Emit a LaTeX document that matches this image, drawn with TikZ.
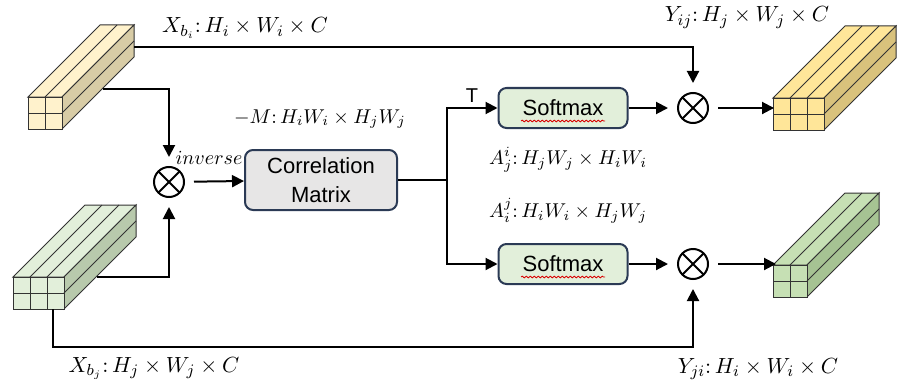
\documentclass[tikz,border=0pt]{standalone}
\usepackage{fontspec}
\setsansfont{Liberation Sans}
\usetikzlibrary{arrows.meta}
\usetikzlibrary{decorations.pathmorphing}

\definecolor{yellowLt}{HTML}{FFF2CC}
\definecolor{yellowLtSide}{HTML}{D8CCA6}
\definecolor{yellowDk}{HTML}{FFE699}
\definecolor{yellowDkSide}{HTML}{D9C27C}
\definecolor{greenLt}{HTML}{E2EFDA}
\definecolor{greenLtSide}{HTML}{B8C9AC}
\definecolor{greenDk}{HTML}{C6E0B4}
\definecolor{greenDkSide}{HTML}{A6C393}
\definecolor{boxgray}{HTML}{E7E6E6}
\definecolor{boxline}{HTML}{2B3A55}

% feature cube: #1,#2 front top-left corner, #3 columns, #4 rows, #5 front colour, #6 side colour
\newcommand{\featcube}[6]{%
  \begin{scope}[shift={(#1,#2)}]
    \pgfmathsetmacro\cw{#3*17}
    \pgfmathsetmacro\ch{#4*16}
    \filldraw[fill=#5, cubeedge] (0,0) -- (\cw,0) -- ++(72,-72) -- (72,-72) -- cycle;
    \filldraw[fill=#6, cubeedge] (\cw,0) -- (\cw,\ch) -- ++(72,-72) -- (\cw+72,-72) -- cycle;
    \filldraw[fill=#5, cubeedge] (0,0) rectangle (\cw,\ch);
    \foreach \c in {1,...,#3} {
      \ifnum\c<#3
        \draw[cubeedge] (\c*17,0) -- ++(72,-72);
        \draw[cubeedge] (\c*17,0) -- (\c*17,\ch);
      \fi
    }
    \foreach \r in {1,...,#4} {
      \ifnum\r<#4
        \draw[cubeedge] (\cw,\r*16) -- ++(72,-72);
        \draw[cubeedge] (0,\r*16) -- (\cw,\r*16);
      \fi
    }
  \end{scope}
}

\begin{document}
\begin{tikzpicture}[x=0.5pt, y=-0.5pt,
    cubeedge/.style={draw=black!80, line width=0.5pt},
    arr/.style={-{Triangle[length=6pt,width=6pt]}, line width=1pt},
    wire/.style={line width=1pt},
    procbox/.style={draw=boxline, line width=1pt, rounded corners=4pt, align=center,
      font=\sffamily\fontsize{11}{14.5}\selectfont, inner sep=0pt},
    otimes/.style={circle, draw, line width=1pt, minimum size=15pt, inner sep=0pt, outer sep=5pt,
      path picture={\draw[line width=1pt] (path picture bounding box.south west) -- (path picture bounding box.north east)
        (path picture bounding box.north west) -- (path picture bounding box.south east);}},
    dimlabel/.style={anchor=base, inner sep=0pt, font=\fontsize{11}{13}\selectfont},
    sizelabel/.style={anchor=base, inner sep=0pt, font=\fontsize{10}{12}\selectfont},
    spellmark/.style={red!85!black, line width=0.4pt, decorate,
      decoration={snake, amplitude=0.45pt, segment length=2pt}}]

  \useasboundingbox (0,0) rectangle (897,385);

  % feature maps
  \featcube{28}{97}{2}{2}{yellowLt}{yellowLtSide}
  \featcube{13}{277}{3}{2}{greenLt}{greenLtSide}
  \featcube{773}{98}{3}{2}{yellowDk}{yellowDkSide}
  \featcube{773}{265}{2}{2}{greenDk}{greenDkSide}

  \coordinate (xbiTop) at (134,47);
  \coordinate (xbiSide) at (103,89);
  \coordinate (xbjSide) at (97,277);
  \coordinate (xbjBot) at (53,309);
  \coordinate (yijIn) at (774,108);
  \coordinate (yjiIn) at (776,264);

  % operators and blocks
  \node[otimes] (otL) at (169,182) {};
  \node[otimes] (otT) at (693,108) {};
  \node[otimes] (otB) at (693,264) {};
  \node[procbox, fill=boxgray, minimum width=76pt, minimum height=30pt] (cm) at (321,180) {Correlation\\Matrix};
  \node[procbox, fill=greenLt, minimum width=64.5pt, minimum height=20pt] (smT) at (563,108) {Softmax};
  \node[procbox, fill=greenLt, minimum width=64.5pt, minimum height=20pt] (smB) at (563,264) {Softmax};
  \draw[spellmark] ([xshift=-21pt,yshift=-6.5pt]smT.center) -- ([xshift=21pt,yshift=-6.5pt]smT.center);
  \draw[spellmark] ([xshift=-21pt,yshift=-6.5pt]smB.center) -- ([xshift=21pt,yshift=-6.5pt]smB.center);
  \coordinate (split) at (447,180);

  % connectors
  \draw[arr] (xbiTop) -| (otT);
  \draw[arr] (xbiSide) -| (otL);
  \draw[arr] (xbjSide) -| (otL);
  \draw[arr] (otL) -- (cm);
  \draw[wire] (cm.east) -- (split);
  \draw[arr] (split) |- (smT);
  \draw[arr] (split) |- (smB);
  \draw[arr] (smT) -- (otT);
  \draw[arr] (smB) -- (otB);
  \draw[arr] (otT) -- (yijIn);
  \draw[arr] (otB) -- (yjiIn);
  \draw[arr] (xbjBot) -- ++(0,38) -| (otB);

  % labels
  \node[dimlabel] (lXbi) at (245,33) {$X_{b_i}{:}\,H_i \times W_i \times C$};
  \node[dimlabel] (lYij) at (747,22) {$Y_{ij}{:}\,H_j \times W_j \times C$};
  \node[sizelabel] (lM) at (320,123) {$-M{:}\,H_iW_i \times H_jW_j$};
  \node[sizelabel] (lAji) at (568,164) {$A_j^i{:}\,H_jW_j \times H_iW_i$};
  \node[sizelabel] (lAij) at (568,217) {$A_i^j{:}\,H_iW_i \times H_jW_j$};
  \node[dimlabel] (lXbj) at (154,372) {$X_{b_j}{:}\,H_j \times W_j \times C$};
  \node[dimlabel] (lYji) at (758,373) {$Y_{ji}{:}\,H_i \times W_i \times C$};
  \node[sizelabel] (linv) at (209,164) {$inverse$};
  \node[anchor=base, inner sep=0pt, font=\sffamily\fontsize{10}{12}\selectfont] (lT) at (472,103) {T};
\end{tikzpicture}
\end{document}
